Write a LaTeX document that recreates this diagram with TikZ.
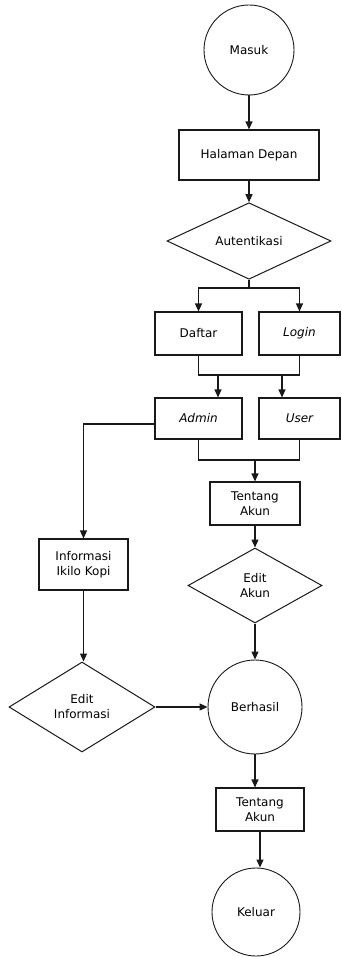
\documentclass[tikz,border=0pt]{standalone}
\usepackage{fontspec}
\setmainfont{DejaVu Sans}
\usepackage{tikz}
\usetikzlibrary{arrows.meta, shapes.geometric}
\usepackage{xcolor}
\definecolor{flowline}{RGB}{25,25,25}
\tikzset{
  box/.style      = {draw=flowline, line width=1.1pt, fill=white, align=center,
                     font=\fontsize{12}{15}\selectfont, inner sep=0pt},
  term/.style     = {circle, draw=flowline, line width=0.9pt, fill=white, align=center,
                     font=\fontsize{12}{15}\selectfont, inner sep=0pt},
  decision/.style = {diamond, draw=flowline, line width=1pt, fill=white, align=center,
                     font=\fontsize{12}{15}\selectfont, inner sep=0pt},
  arrow/.style    = {->, >={Triangle[length=8pt, width=7pt]}, line width=1.2pt, color=flowline},
  link/.style     = {line width=1.2pt, color=flowline},
}

\begin{document}
\begin{tikzpicture}[x=1pt, y=-1pt]

\useasboundingbox (0,0) rectangle (342,957);

\node[term, minimum size=90pt] (masuk) at (249,50) {Masuk};
\node[box, minimum width=140pt, minimum height=50pt] (halaman) at (249,155) {Halaman Depan};
\node[decision, minimum width=164pt, minimum height=56pt] (auten) at (249,241) {Autentikasi};

\node[box, minimum width=87pt, minimum height=43pt] (daftar) at (198.5,333.5) {Daftar};
\node[box, minimum width=81pt, minimum height=43pt] (login) at (299.5,333.5) {\itshape Login};
\node[box, minimum width=87pt, minimum height=41pt] (admin) at (198.5,418.5) {\itshape Admin};
\node[box, minimum width=81pt, minimum height=41pt] (user) at (299.5,418.5) {\itshape User};

\node[box, minimum width=90pt, minimum height=43pt] (akun) at (255,503.5) {Tentang\\Akun};
\node[decision, minimum width=134pt, minimum height=75pt] (editakun) at (255,585.5) {Edit\\Akun};
\node[term, minimum size=94pt] (berhasil) at (255,707) {Berhasil};

\node[box, minimum width=89pt, minimum height=51pt] (info) at (83.5,564.5) {Informasi\\Ikilo Kopi};
\node[decision, minimum width=146pt, minimum height=90pt] (editinfo) at (82,707) {Edit\\Informasi};

\node[box, minimum width=88pt, minimum height=43pt] (akunb) at (260,809.5) {Tentang\\Akun};
\node[term, minimum size=88pt] (keluar) at (256,912) {Keluar};

\coordinate (cabang) at (249,288);
\coordinate (gabungA) at (218,375);
\coordinate (gabungB) at (282,375);
\coordinate (gabungC) at (255,460);

\draw[arrow] (masuk) -- (halaman);
\draw[arrow] (halaman) -- (auten);
\draw[link] (auten) -- (cabang);
\draw[arrow] (cabang) -| (daftar);
\draw[arrow] (cabang) -| (login);

\draw[link] (daftar) |- (gabungA) -- (gabungB) -| (login);
\draw[arrow] (gabungA) -- (gabungA |- admin.north);
\draw[arrow] (gabungB) -- (gabungB |- user.north);

\draw[link] (admin) |- (gabungC) -| (user);
\draw[arrow] (gabungC) -- (akun);
\draw[arrow] (akun) -- (editakun);
\draw[arrow] (editakun) -- (berhasil);

\draw[arrow] ([yshift=-5.5pt]admin.west) -| (info);
\draw[arrow] (info) -- (info |- editinfo.north);
\draw[arrow] (editinfo) -- (berhasil);

\draw[arrow] (berhasil) -- (berhasil |- akunb.north);
\draw[arrow] (akunb) -- (akunb |- keluar.north);

\end{tikzpicture}
\end{document}
